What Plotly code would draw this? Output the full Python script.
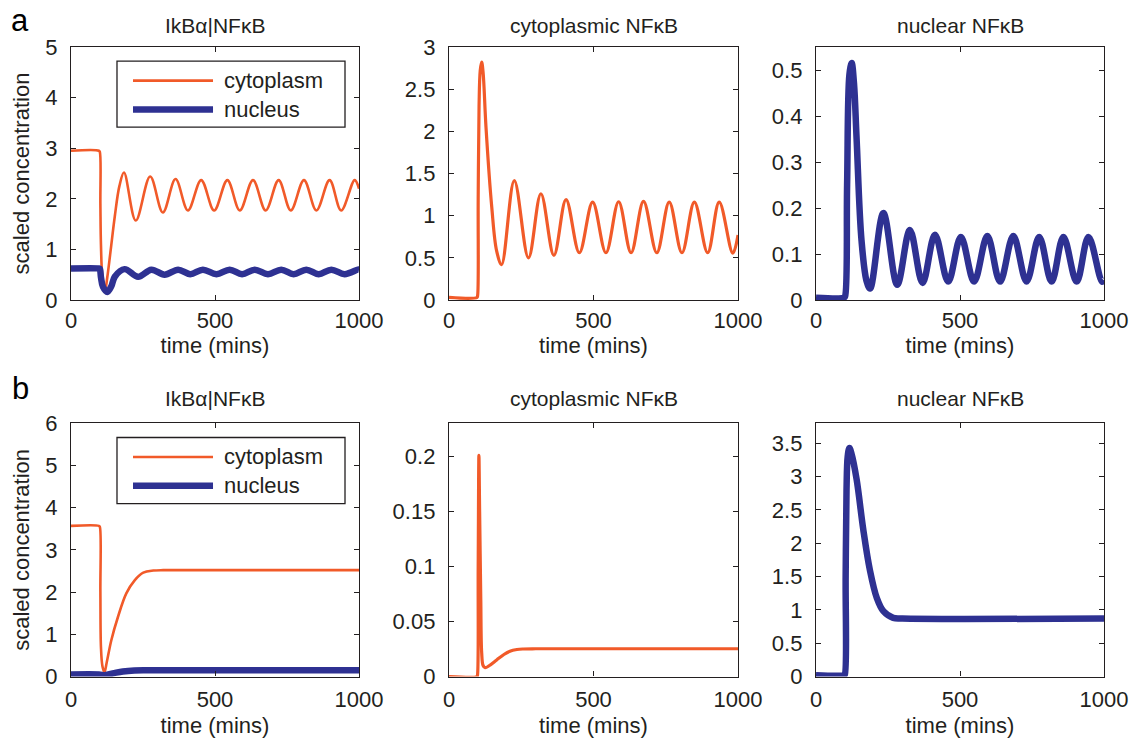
import plotly.graph_objects as go

# ---------------- data ----------------
# Row a, panel 1: IkBa|NFkB
t_a1_cyt = [0, 97, 100, 102, 104, 109, 118, 126, 137, 152, 168, 184, 225, 275, 319, 363, 406, 452, 497, 543, 586, 632, 676, 721, 763, 809, 852, 898, 938, 985, 1000]
v_a1_cyt = [2.95, 2.95, 2.93, 1.9, 1.1, 0.45, 0.17, 0.45, 0.95, 1.65, 2.25, 2.52, 1.57, 2.44, 1.73, 2.39, 1.77, 2.37, 1.77, 2.37, 1.77, 2.37, 1.77, 2.37, 1.77, 2.37, 1.77, 2.37, 1.77, 2.37, 2.2]
t_a1_nuc = [0, 97, 100, 104, 111, 126, 140, 152, 186, 233, 279, 325, 372, 414, 458, 505, 551, 594, 638, 684, 730, 773, 817, 860, 904, 950, 996, 1000]
v_a1_nuc = [0.625, 0.625, 0.62, 0.45, 0.26, 0.16, 0.27, 0.46, 0.61, 0.46, 0.6, 0.5, 0.6, 0.51, 0.6, 0.51, 0.6, 0.51, 0.6, 0.51, 0.6, 0.51, 0.6, 0.51, 0.6, 0.51, 0.6, 0.6]

# Row a, panel 2: cytoplasmic NFkB
t_a2 = [0, 97, 99, 101, 104, 108, 113, 118, 128, 148, 165, 182, 226, 275, 318, 363, 405, 451, 497, 543, 587, 630, 673, 719, 762, 806, 849, 895, 935, 982, 1000]
v_a2 = [0.03, 0.03, 0.05, 1.2, 2.3, 2.72, 2.82, 2.7, 2.05, 1.1, 0.58, 0.42, 1.415, 0.5, 1.26, 0.53, 1.19, 0.56, 1.16, 0.56, 1.165, 0.56, 1.17, 0.56, 1.16, 0.56, 1.16, 0.56, 1.16, 0.555, 0.77]

# Row a, panel 3: nuclear NFkB
t_a3 = [0, 97, 101, 108, 116, 124, 132, 141, 158, 176, 188, 234, 282, 326, 370, 413, 459, 503, 549, 595, 639, 685, 731, 775, 818, 859, 905, 946, 993, 1000]
v_a3 = [0.005, 0.005, 0.008, 0.25, 0.49, 0.515, 0.47, 0.35, 0.13, 0.04, 0.025, 0.189, 0.033, 0.152, 0.037, 0.142, 0.04, 0.137, 0.04, 0.139, 0.04, 0.139, 0.04, 0.137, 0.04, 0.137, 0.04, 0.137, 0.04, 0.043]

# Row b, panel 1: IkBa|NFkB
t_b1_cyt = [0, 97, 100, 102, 104, 109, 116, 124, 140, 163, 192, 221, 251, 286, 320, 400, 1000]
v_b1_cyt = [3.57, 3.57, 3.55, 2.0, 0.7, 0.25, 0.1, 0.33, 0.86, 1.41, 1.97, 2.28, 2.46, 2.51, 2.52, 2.52, 2.52]
t_b1_nuc = [0, 97, 117, 150, 180, 220, 270, 1000]
v_b1_nuc = [0.05, 0.05, 0.03, 0.08, 0.12, 0.145, 0.15, 0.15]

# Row b, panel 2: cytoplasmic NFkB
t_b2 = [0, 97, 98.5, 101, 103.5, 106, 110, 113, 118, 125, 140, 165, 190, 211, 235, 257, 300, 1000]
v_b2 = [0.0, 0.0, 0.001, 0.1, 0.201, 0.15, 0.07, 0.022, 0.01, 0.008, 0.01, 0.015, 0.02, 0.023, 0.0245, 0.025, 0.0252, 0.0252]

# Row b, panel 3: nuclear NFkB
t_b3 = [0, 97, 100, 103, 106, 110, 116, 123, 141, 164, 187, 211, 234, 268, 300, 1000]
v_b3 = [0.02, 0.02, 0.03, 1.5, 2.8, 3.3, 3.43, 3.35, 2.96, 2.21, 1.6, 1.18, 0.98, 0.88, 0.87, 0.87]

# titles / ticks
panel_titles = ["IkB\u03b1|NF\u03baB", "cytoplasmic NF\u03baB", "nuclear NF\u03baB"]
legend_labels = ["cytoplasm", "nucleus"]
x_ticks = [0, 500, 1000]
y_ticks = [
    [0, 1, 2, 3, 4, 5],
    [0, 0.5, 1, 1.5, 2, 2.5, 3],
    [0, 0.1, 0.2, 0.3, 0.4, 0.5],
    [0, 1, 2, 3, 4, 5, 6],
    [0, 0.05, 0.1, 0.15, 0.2],
    [0, 0.5, 1, 1.5, 2, 2.5, 3, 3.5],
]
y_ranges = [[0, 5], [0, 3], [0, 0.55], [0, 6], [0, 0.23], [0, 3.8]]

# ---------------- styling ----------------
ORANGE = "#F15A29"
BLUE = "#2E3192"
INK = "#231F20"
FONT = "Liberation Sans, Arial, Helvetica, sans-serif"
W, H = 1133, 738

col_px = [(71, 359), (449, 738), (816, 1104)]
row_px = [(47, 300), (423.3, 676.5)]


def fmt(v):
    return "%g" % v


fig = go.Figure()

series = [
    [(t_a1_cyt, v_a1_cyt, ORANGE, 2.6), (t_a1_nuc, v_a1_nuc, BLUE, 6.5)],
    [(t_a2, v_a2, ORANGE, 3.2)],
    [(t_a3, v_a3, BLUE, 6.5)],
    [(t_b1_cyt, v_b1_cyt, ORANGE, 2.6), (t_b1_nuc, v_b1_nuc, BLUE, 6.5)],
    [(t_b2, v_b2, ORANGE, 3.2)],
    [(t_b3, v_b3, BLUE, 6.5)],
]

for i in range(6):
    r, c = divmod(i, 3)
    k = "" if i == 0 else str(i + 1)
    for (tt, vv, col, lw) in series[i]:
        fig.add_trace(go.Scatter(
            x=tt, y=vv, mode="lines", xaxis="x" + k, yaxis="y" + k,
            line=dict(color=col, width=lw, shape="spline", smoothing=1.0),
            showlegend=False, hoverinfo="skip"))

    x0, x1 = col_px[c]
    ytop, ybot = row_px[r]
    common = dict(
        showline=True, linecolor=INK, linewidth=1.3, mirror="ticks",
        ticks="inside", ticklen=5, tickwidth=1, tickcolor=INK,
        showgrid=False, zeroline=False, automargin=False,
        tickfont=dict(family=FONT, size=22, color=INK),
    )
    fig.update_layout(**{
        "xaxis" + k: dict(
            domain=[x0 / W, x1 / W], range=[0, 1000], anchor="y" + k,
            tickvals=x_ticks, ticktext=[fmt(v) for v in x_ticks],
            ticklabelstandoff=0 if r == 0 else 3,
            title=dict(text="time (mins)", font=dict(family=FONT, size=22, color=INK),
                       standoff=5 if r == 0 else 8),
            **common),
        "yaxis" + k: dict(
            domain=[1 - ybot / H, 1 - ytop / H], range=y_ranges[i], anchor="x" + k,
            tickvals=y_ticks[i], ticktext=[fmt(v) for v in y_ticks[i]],
            ticklabelstandoff=8,
            title=dict(text="scaled concentration" if c == 0 else "",
                       font=dict(family=FONT, size=22, color=INK), standoff=9),
            **common),
    })
    # panel title
    fig.add_annotation(
        text=panel_titles[c], xref="x" + k + " domain", yref="y" + k + " domain",
        x=0.5, y=1 + (21 if r == 0 else 25) / 253.0, xanchor="center", yanchor="middle",
        showarrow=False, font=dict(family=FONT, size=21, color=INK))

# manual legends in panel 1 of each row
for k in ["", "4"]:
    xr, yr = "x" + k + " domain", "y" + k + " domain"
    fig.add_shape(type="rect", xref=xr, yref=yr, x0=0.1597, x1=0.9514, y0=0.683, y1=0.944,
                  line=dict(color=INK, width=1.3), fillcolor="white", layer="above")
    for j, (lab, col, lw) in enumerate(zip(legend_labels, [ORANGE, BLUE], [2.6, 6.5])):
        yy = 0.867 if j == 0 else 0.753
        fig.add_shape(type="line", xref=xr, yref=yr, x0=0.2153, x1=0.4931, y0=yy, y1=yy,
                      line=dict(color=col, width=lw), layer="above")
        fig.add_annotation(text=lab, xref=xr, yref=yr, x=0.524, y=yy, xanchor="left", yanchor="middle",
                           showarrow=False, font=dict(family=FONT, size=22, color=INK))

# panel letters
fig.add_annotation(text="a", xref="paper", yref="paper", x=20 / W, y=1 - 1 / H,
                   xanchor="center", yanchor="top", showarrow=False,
                   font=dict(family=FONT, size=31, color="black"))
fig.add_annotation(text="b", xref="paper", yref="paper", x=20 / W, y=1 - 388 / H,
                   xanchor="center", yanchor="middle", showarrow=False,
                   font=dict(family=FONT, size=31, color="black"))

fig.update_layout(
    width=W, height=H, margin=dict(l=0, r=0, t=0, b=0, autoexpand=False),
    paper_bgcolor="white", plot_bgcolor="white",
    font=dict(family=FONT, color=INK),
    showlegend=False,
)

fig.write_html("out.html")
